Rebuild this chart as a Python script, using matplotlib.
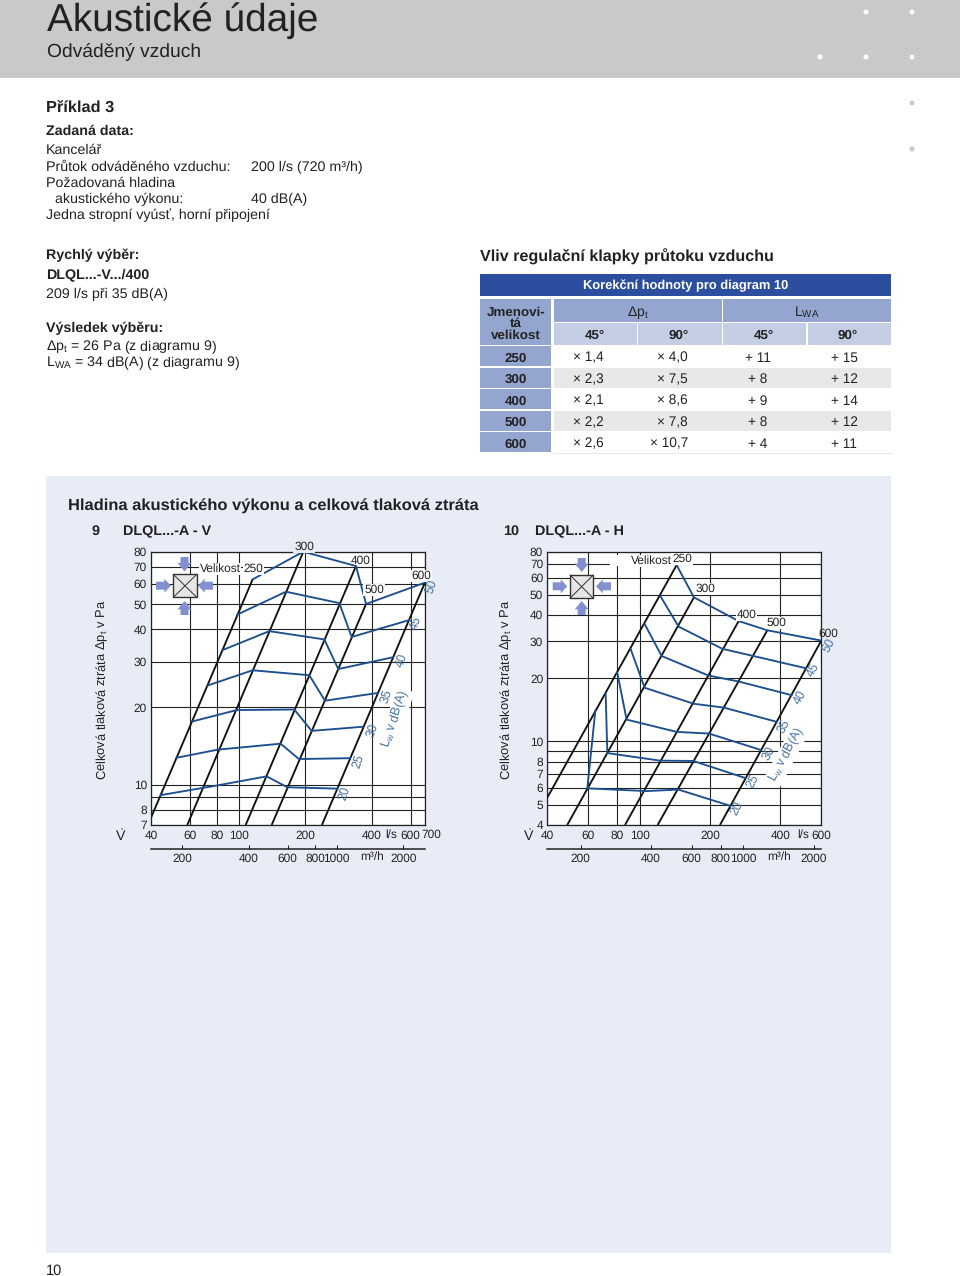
#coding: utf-8

import matplotlib
matplotlib.use("Agg")
import matplotlib.pyplot as plt
from matplotlib.patches import Rectangle, Polygon, Circle

plt.rcParams["font.family"] = ["Liberation Sans", "DejaVu Sans"]
plt.rcParams["mathtext.default"] = "regular"
plt.rcParams["text.hinting"] = "no_hinting"

INK = "#222222"
BLUE = "#1c4f8f"
LABEL_BLUE = "#4a76a3"

# ----- diagram 9 data -----
x9_ticks = [40, 60, 80, 100, 200, 400, 600, 700]
x9_labels = ["40", "60", "80", "100", "200", "400", "600", ""]
y9_ticks = [7, 8, 9, 10, 20, 30, 40, 50, 60, 70, 80]
y9_labels = ["7", "8", "", "10", "20", "30", "40", "50", "60", "70", "80"]
m3h_ticks = [200, 400, 600, 800, 1000, 2000]
m3h_labels = ["200", "400", "600", "800", "1000", "2000"]

size9_x = [[40, 115.5], [58.4, 196], [107.4, 339.6], [140.9, 377.3], [238, 697]]
size9_y = [[7.47, 62.5], [7, 80], [7, 70.4], [7, 50.2], [7, 60.7]]

lw9_x = [
    [44.4, 79.3, 133.7, 165.9, 279.4],
    [52.3, 80.2, 154.7, 187.3, 319],
    [61.3, 97.8, 178.4, 213.8, 364],
    [72.5, 115.5, 208.6, 245.7, 425.6],
    [84.5, 137.5, 244, 282.4, 497.8],
    [98.5, 163.6, 285.4, 324.6, 592.4],
    [115.5, 196, 339.6, 377.3, 697],
]
lw9_y = [
    [9.14, 9.95, 10.8, 9.8, 9.68],
    [12.75, 13.7, 14.45, 12.6, 12.7],
    [17.6, 19.5, 19.6, 16.2, 16.8],
    [24.3, 27.8, 26.6, 21.2, 22.7],
    [33.3, 39.4, 36.6, 28.1, 31.2],
    [45.7, 56, 50.6, 37.4, 43.5],
    [62.5, 80, 70.4, 50.2, 60.7],
]

# ----- diagram 10 data -----
x10_ticks = [40, 60, 80, 100, 200, 400, 600]
x10_labels = ["40", "60", "80", "100", "200", "400", "600"]
y10_ticks = [4, 5, 6, 7, 8, 9, 10, 20, 30, 40, 50, 60, 70, 80]
y10_labels = ["4", "5", "6", "7", "8", "", "10", "20", "30", "40", "50", "60", "70", "80"]

size10_x = [[40, 143.6], [48.7, 170.4], [86.2, 265.1], [119, 352], [220.4, 600]]
size10_y = [[5.4, 69.1], [4, 48.5], [4, 37.4], [4, 33.8], [4, 30.2]]

lw10_x = [
    [64.3, 59.4, 106.8, 146, 243.4],
    [71.2, 72.4, 121.8, 169.3, 282.2],
    [79.9, 87.6, 143.6, 197.7, 330.7],
    [91.2, 104.7, 170.4, 228, 385.7],
    [104.7, 123.8, 196.4, 264.2, 447.6],
    [122.2, 146.5, 225.6, 515.6],
    [143.6, 170.4, 265.1, 352, 600],
]
lw10_y = [
    [14.0, 5.98, 5.8, 5.9, 4.94],
    [16.9, 8.8, 8.1, 8.07, 6.7],
    [21.2, 12.7, 11.1, 10.9, 9.1],
    [27.5, 18.0, 15.1, 14.5, 12.4],
    [36.2, 25.5, 20.6, 19.3, 16.6],
    [49.2, 35.2, 27.6, 22.3],
    [69.1, 48.5, 37.4, 33.8, 30.2],
]

# ----- table data -----
table_sizes = ["250", "300", "400", "500", "600"]
dp_45 = ["× 1,4", "× 2,3", "× 2,1", "× 2,2", "× 2,6"]
dp_90 = ["× 4,0", "× 7,5", "× 8,6", "× 7,8", "× 10,7"]
lwa_45 = ["+ 11", "+ 8", "+ 9", "+ 8", "+ 4"]
lwa_90 = ["+ 15", "+ 12", "+ 14", "+ 12", "+ 11"]

fig = plt.figure(figsize=(9.6, 12.76), dpi=100)


def page_axes(z):
    a = fig.add_axes([0, 0, 1, 1], zorder=z)
    a.set_xlim(0, 960)
    a.set_ylim(1276, 0)
    a.axis("off")
    return a


back = page_axes(0)
over = page_axes(5)


def rect(x0, y0, x1, y1, color):
    back.add_patch(Rectangle((x0, y0), x1 - x0, y1 - y0, fc=color, ec="none"))


def txt(x, y, s, size=10.25, weight="normal", ha="left", color=INK, ax=over, **kw):
    # y is the middle of the capitals, so lines of one row share a baseline
    if "rotation" in kw:
        return ax.text(x, y, s, fontsize=size, fontweight=weight, ha=ha, va="center", color=color, **kw)
    base = y + 0.36 * size * 100 / 72
    return ax.text(x, base, s, fontsize=size, fontweight=weight, ha=ha, va="baseline", color=color, **kw)


# header band and dots
rect(0, 0, 960, 78, "#c9c9c9")
for dx, dy in [(866, 12), (912, 12), (820, 57), (866, 57), (912, 57)]:
    back.add_patch(Circle((dx, dy), 2.5, fc="white", ec="none"))
for dx, dy in [(912, 103), (912, 149)]:
    back.add_patch(Circle((dx, dy), 2.5, fc="#c9c9c9", ec="none"))
txt(47, 16.5, "Akustické údaje", size=27.9)
txt(47, 50, "Odváděný vzduch", size=13.9)

# left text column
txt(46, 107, "Příklad 3", size=11.8, weight="bold")
txt(46, 130, "Zadaná data:", weight="bold")
txt(46, 149, "Kancelář")
txt(46, 165.5, "Průtok odváděného vzduchu:")
txt(251, 165.5, "200 l/s (720 m³/h)")
txt(46, 182, "Požadovaná hladina")
txt(55, 198, "akustického výkonu:")
txt(251, 198, "40 dB(A)")
txt(46, 214, "Jedna stropní vyúsť, horní připojení")
txt(46, 254, "Rychlý výběr:", weight="bold")
txt(46, 273, "DLQL...-V.../400", weight="bold")
txt(46, 293, "209 l/s při 35 dB(A)")
txt(46, 327, "Výsledek výběru:", weight="bold")
txt(46, 346, "Δp$_t$ = 26 Pa (z diagramu 9)")
txt(46, 362, "L$_{WA}$ = 34 dB(A) (z diagramu 9)")

# table
txt(480, 256, "Vliv regulační klapky průtoku vzduchu", size=11.6, weight="bold")
rect(480, 273.5, 891, 296, "#2b4f9e")
txt(685.5, 285, "Korekční hodnoty pro diagram 10", size=9.3, weight="bold", ha="center", color="white")
rect(480, 298.5, 551, 345, "#94a5cf")
rect(553.5, 298.5, 721.5, 321.5, "#94a5cf")
rect(723, 298.5, 891, 321.5, "#94a5cf")
col_edges = [(553.5, 636.5), (638, 721.5), (723, 806), (807.5, 891)]
for c0, c1 in col_edges:
    rect(c0, 323, c1, 345, "#c3cee5")
txt(516, 311, "Jmenovi-", size=9.6, weight="bold", ha="center")
txt(516, 322, "tá", size=9.6, weight="bold", ha="center")
txt(516, 334, "velikost", size=9.6, weight="bold", ha="center")
txt(638, 311, "Δp$_t$", size=10, ha="center")
txt(807, 311, "L$_{WA}$", size=10, ha="center")
for s, cx in zip(["45°", "90°", "45°", "90°"], [595, 679, 764, 848]):
    txt(cx, 334, s, size=9.6, weight="bold", ha="center")

row_tops = [346, 367.5, 389, 410.5, 432]
for i, ty in enumerate(row_tops):
    cy = ty + 10.7
    rect(480, ty, 551, ty + 20.2, "#94a5cf")
    if i % 2 == 1:
        rect(553.5, ty, 891, ty + 20.2, "#e8e8e8")
    txt(516, cy, table_sizes[i], size=9.6, weight="bold", ha="center")
    txt(588, cy, dp_45[i], size=9.8, ha="center")
    txt(672 if len(dp_90[i]) < 6 else 669, cy, dp_90[i], size=9.8, ha="center")
    txt(758, cy, lwa_45[i], size=9.8, ha="center")
    txt(844, cy, lwa_90[i], size=9.8, ha="center")
back.plot([553.5, 891], [452.5, 452.5], color="#e6e6e6", lw=0.7)

# diagrams panel
rect(46, 476, 891, 1253, "#e8ecf6")
txt(68, 505, "Hladina akustického výkonu a celková tlaková ztráta", size=11.85, weight="bold")
txt(96, 530, "9", size=10.35, weight="bold", ha="center")
txt(123, 530, "DLQL...-A - V", size=10.35, weight="bold")
txt(503, 530, "10", size=10.35, weight="bold")
txt(535, 530, "DLQL...-A - H", size=10.35, weight="bold")
txt(46, 1270, "10", size=10.5)


def chart(left, right, xlim, ylim, xt, xl, yt, yl, sx, sy, bx, by):
    ax = fig.add_axes([left / 960, 1 - 825 / 1276, (right - left) / 960, (825 - 551.7) / 1276], zorder=2)
    ax.set_xscale("log")
    ax.set_yscale("log")
    ax.set_xlim(xlim)
    ax.set_ylim(ylim)
    ax.set_xticks(xt, labels=xl)
    ax.set_yticks(yt, labels=yl)
    ax.minorticks_off()
    ax.tick_params(length=0, labelsize=8.6, colors=INK)
    ax.tick_params(axis="x", pad=4)
    ax.tick_params(axis="y", pad=3)
    ax.grid(True, color="#222222", lw=0.8)
    ax.set_axisbelow(True)
    for sp in ax.spines.values():
        sp.set_linewidth(0.9)
        sp.set_color("#222222")
    for a, b in zip(sx, sy):
        ax.plot(a, b, color="#111111", lw=1.35, solid_capstyle="butt")
    for a, b in zip(bx, by):
        ax.plot(a, b, color=BLUE, lw=1.35, solid_joinstyle="miter")

    # second scale in m3/h below the l/s one
    axm = fig.add_axes([left / 960, 1 - 848.5 / 1276, (right - left) / 960, 0.5 / 1276], zorder=2)
    axm.patch.set_visible(False)
    axm.set_xscale("log")
    axm.set_xlim(xlim[0] * 3.6, xlim[1] * 3.6)
    axm.set_xticks(m3h_ticks, labels=m3h_labels)
    axm.minorticks_off()
    axm.set_yticks([])
    for name in ["top", "left", "right"]:
        axm.spines[name].set_visible(False)
    axm.spines["bottom"].set_linewidth(1.1)
    axm.spines["bottom"].set_color("#222222")
    axm.tick_params(axis="x", direction="in", length=3, width=0.8, labelsize=8.6, pad=3.5, colors=INK)
    return ax


chart(151, 425.3, (40, 700), (7, 80), x9_ticks, x9_labels, y9_ticks, y9_labels,
      size9_x, size9_y, lw9_x, lw9_y)
chart(547.3, 821.3, (40, 600), (4, 80), x10_ticks, x10_labels, y10_ticks, y10_labels,
      size10_x, size10_y, lw10_x, lw10_y)


def arrows(sq0, sq1, top, left_x, right_x, bot):
    # top, left_x, right_x, bot are (tail, tip, centre) in page pixels
    fill = "#8290cf"
    sx0, sy0 = sq0
    sx1, sy1 = sq1
    over.add_patch(Rectangle((sx0, sy0), sx1 - sx0, sy1 - sy0, fc="#e6e6e6", ec="#333333", lw=1.0))
    over.plot([sx0, sx1], [sy0, sy1], color="#333333", lw=0.7)
    over.plot([sx0, sx1], [sy1, sy0], color="#333333", lw=0.7)
    for tail, tip, c in [top, bot]:
        mid = tail + (tip - tail) * 0.4
        over.add_patch(Polygon([(c - 4, tail), (c + 4, tail), (c + 4, mid), (c + 7, mid),
                                (c, tip), (c - 7, mid), (c - 4, mid)], fc=fill, ec="none"))
    for tail, tip, c in [left_x, right_x]:
        mid = tail + (tip - tail) * 0.55
        over.add_patch(Polygon([(tail, c - 4), (tail, c + 4), (mid, c + 4), (mid, c + 7),
                                (tip, c), (mid, c - 7), (mid, c - 4)], fc=fill, ec="none"))


arrows((173.3, 574.3), (196.7, 597.3), (557, 571.5, 184.5), (156, 171, 585.7), (213, 198, 585.7), (615, 601, 184.5))
arrows((570, 575), (593.3, 598.3), (558, 572, 581.7), (552.7, 567.3, 586.3), (611, 596, 586.3), (615, 601, 581.7))
# white gap behind the "Velikost" label of diagram 10
over.add_patch(Rectangle((610, 555), 22, 10.5, fc="white", ec="none"))


def label(x, y, s, bg="white", **kw):
    t = txt(x, y, s, size=8.6, ha="center", **kw)
    if bg:
        t.set_bbox(dict(fc=bg, ec="none", pad=0.4))
    return t


# axis labels and extra texts of diagram 9
txt(103, 690, "Celková tlaková ztráta Δp$_t$ v Pa", size=9.25, ha="center", rotation=90)
txt(121, 836, r"$\dot{V}$", size=10.3, ha="center")
txt(431.5, 834, "700", size=8.6, ha="center")
txt(390.7, 834, "l/s", size=8.6, ha="center")
txt(371.7, 856, "m³/h", size=8.6, ha="center")
label(220, 567.7, "Velikost")
label(253.5, 568, "250")
label(304, 546, "300", bg="#e8ecf6")
label(361, 559.3, "400", bg=None)
label(374, 589, "500")
label(421, 575, "600")
lab9 = [("20", 344, 793), ("25", 358.5, 761), ("30", 372, 730.5), ("35", 386, 696),
        ("40", 401.5, 660), ("45", 417, 623.3), ("50", 431, 586.7)]
for s, lx, ly in lab9:
    txt(lx, ly, s, size=9, ha="center", color=LABEL_BLUE, rotation=72)
t = txt(396, 719, "L$_w$ v dB(A)", size=9, ha="center", color=LABEL_BLUE, rotation=72)
t.set_bbox(dict(fc="white", ec="none", pad=0.8))

# axis labels and extra texts of diagram 10
txt(507, 690, "Celková tlaková ztráta Δp$_t$ v Pa", size=9.25, ha="center", rotation=90)
txt(529, 836, r"$\dot{V}$", size=10.3, ha="center")
txt(803, 834, "l/s", size=8.6, ha="center")
txt(779, 856, "m³/h", size=8.6, ha="center")
label(651.5, 560, "Velikost")
label(682, 558, "250")
label(705.7, 588, "300")
label(746.7, 614, "400")
label(776, 621.7, "500")
label(828, 632.7, "600", bg=None)
lab10 = [("20", 737, 808.7), ("25", 752.7, 781), ("30", 769, 753.3), ("35", 784, 726),
         ("40", 800, 697.3), ("45", 814, 670), ("50", 828.7, 645.7)]
for s, lx, ly in lab10:
    txt(lx, ly, s, size=9, ha="center", color=LABEL_BLUE, rotation=62)
t = txt(786.7, 755, "L$_w$ v dB(A)", size=9, ha="center", color=LABEL_BLUE, rotation=62)
t.set_bbox(dict(fc="white", ec="none", pad=0.8))

fig.savefig("out.png", dpi=100)
